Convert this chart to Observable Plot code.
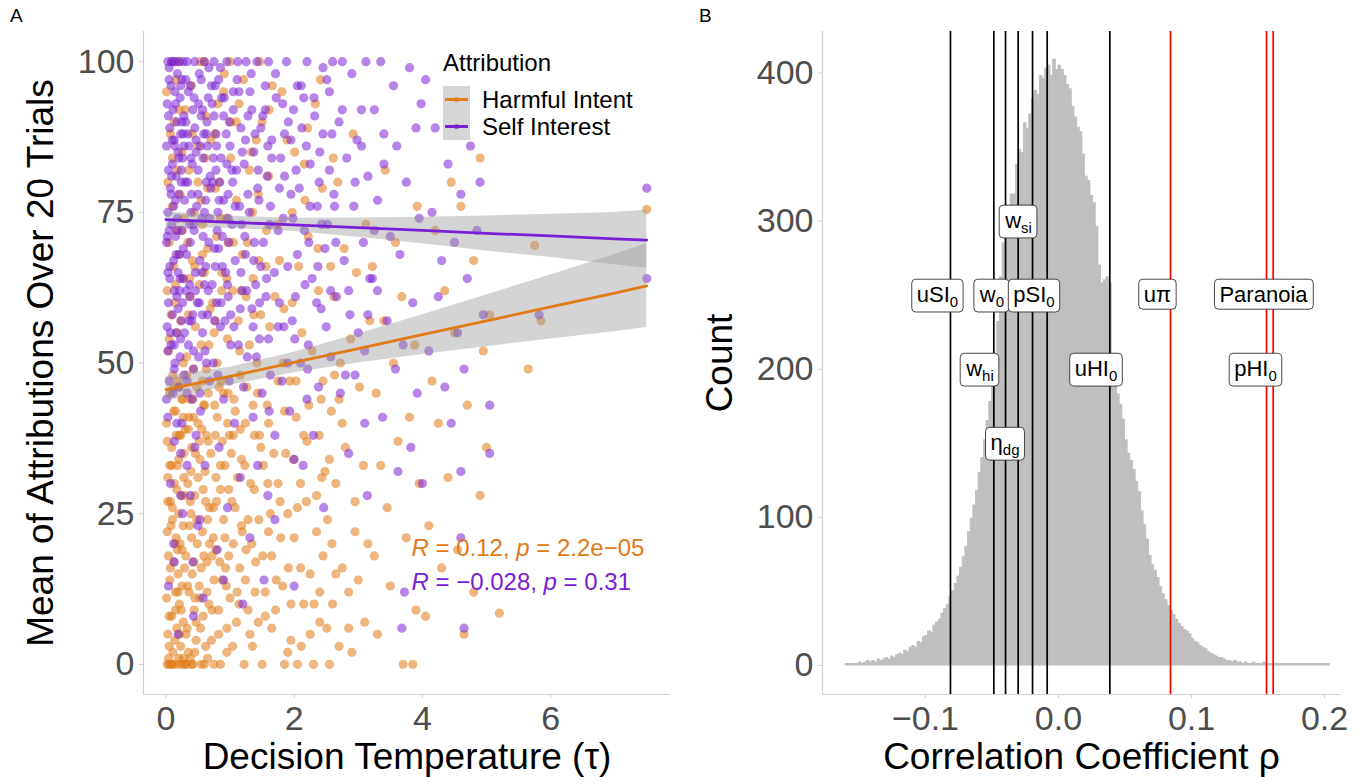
<!DOCTYPE html>
<html><head><meta charset="utf-8">
<script src="https://cdn.jsdelivr.net/npm/d3@7"></script>
<script src="https://cdn.jsdelivr.net/npm/@observablehq/plot@0.6"></script>
<style>
body{margin:0;background:#fff;font-family:"Liberation Sans",Arial,sans-serif;}
#wrap{display:flex;width:1362px;height:784px;overflow:hidden;}
.panel{position:relative;width:681px;height:784px;}
.tag{position:absolute;top:5px;font-size:19px;color:#000;}
svg.ov{position:absolute;left:0;top:0;pointer-events:none;}
</style></head><body>
<div id="wrap">
  <div class="panel" id="pa"><div class="tag" style="left:10px">A</div></div>
  <div class="panel" id="pb"><div class="tag" style="left:18px">B</div></div>
</div>
<script>
// ---------------- Panel A data ----------------
const seriesNames = ["Harmful Intent", "Self Interest"];
const ORANGE = "#E07A14", PURPLE = "#7A20D4";
const hiPoints = [
[0.02,0],[0.08,0],[0.14,0],[0.2,0],[0.26,0],[0.05,0],[0.11,2],[0.23,3],[0.03,5],[0.17,6],[0.27,7],[0.09,8],[0.21,10],[0.01,11],[0.15,12],[0.25,13],[0.06,14],[0.19,15],[0.29,16],[0.12,17],[0.04,18],[0.22,20],[0.16,21],[0.02,22],[0.27,23],[0.1,24],[0.2,25],[0.07,27],[0.24,28],[0.13,30],[0.03,31],[0.18,33],[0.28,35],[0.09,36],[0.21,38],[0.01,40],[0.15,42],[0.25,44],[0.06,45],[0.19,47],[0.11,48],[0.27,50],[0.04,52],[0.17,55],[0.23,57],[0.08,58],[0.14,60],[0.02,62],[0.26,64],[0.12,66],[0.2,68],[0.05,70],[0.16,72],[0.28,74],[0.1,76],[0.22,78],[0.03,80],[0.18,82],[0.25,85],[0.07,88],[0.13,90],[0.21,92],[0.01,95],[0.16,97],[0.09,100],
[0.32,0],[0.42,0],[0.55,0],[0.38,1],[0.62,3],[0.47,4],[0.33,6],[0.58,8],[0.44,9],[0.67,10],[0.36,12],[0.52,13],[0.41,15],[0.64,17],[0.31,18],[0.49,20],[0.57,22],[0.39,25],[0.68,26],[0.45,28],[0.34,30],[0.61,32],[0.53,34],[0.4,36],[0.66,37],[0.35,39],[0.5,40],[0.43,41],[0.59,43],[0.37,44],[0.48,46],[0.63,49],[0.32,51],[0.55,53],[0.46,56],[0.69,59],[0.38,61],[0.52,63],[0.6,65],[0.41,67],[0.34,70],[0.57,73],[0.44,75],[0.65,79],[0.36,82],[0.5,86],[0.62,91],[0.4,96],[0.54,100],
[0.75,0],[0.95,2],[0.82,5],[1.1,7],[0.72,9],[1.0,11],[0.88,14],[1.15,16],[0.78,19],[1.05,20],[0.92,21],[1.18,23],[0.74,26],[0.98,29],[1.12,31],[0.85,33],[1.02,35],[0.77,38],[1.08,42],[0.9,45],[1.16,48],[0.8,50],[0.96,54],[1.13,57],[0.73,60],[1.04,62],[0.87,65],[1.19,68],[0.79,71],[0.94,74],[1.1,77],[0.83,80],[1.01,84],[0.76,88],[1.14,93],[0.91,98],
[1.22,0],[1.5,0],[1.35,3],[1.65,6],[1.28,9],[1.55,12],[1.72,14],[1.4,17],[1.25,19],[1.6,22],[1.45,24],[1.78,27],[1.32,30],[1.52,33],[1.68,35],[1.38,38],[1.24,40],[1.58,43],[1.75,47],[1.42,50],[1.3,53],[1.62,56],[1.48,58],[1.7,61],[1.36,64],[1.56,66],[1.27,70],[1.74,73],[1.44,78],[1.6,81],[1.33,85],[1.5,90],[1.66,96],[1.46,100],
[1.85,0],[2.05,0],[2.3,0],[1.95,4],[2.4,7],[2.15,10],[1.82,13],[2.25,15],[2.45,18],[2.0,21],[1.9,25],[2.35,28],[2.1,30],[2.48,32],[1.87,35],[2.2,37],[2.03,41],[2.42,44],[1.93,47],[2.28,52],[2.12,55],[1.84,59],[2.38,62],[2.07,66],[2.22,71],[1.97,75],[2.44,79],[2.16,83],[1.89,87],[2.33,93],
[2.55,0],[2.9,2],[2.7,3],[3.1,7],[2.6,10],[2.85,12],[3.0,14],[2.75,16],[3.15,20],[2.52,24],[2.95,27],[2.65,30],[3.08,33],[2.8,36],[2.58,42],[3.02,46],[2.72,50],[2.88,54],[3.18,57],[2.62,61],[2.97,65],[2.78,69],[3.12,73],[2.68,80],[2.92,88],
[3.7,0],[3.85,0],[3.3,5],[3.9,9],[3.5,13],[3.25,18],[3.75,21],[3.45,26],[3.95,30],[3.35,33],[3.62,37],[3.8,41],[3.28,45],[3.55,50],[3.88,53],[3.4,57],[3.68,61],[3.22,66],[3.58,70],[3.92,76],[3.42,82],
[4.65,5],[4.05,8],[5.2,8.5],[4.8,12],[4.3,16],[4.55,19],[4.1,23],[4.9,28],[4.4,31],[5.0,36],[4.25,40],[4.7,43],[4.15,47],[4.95,52],[4.5,55],[5.05,58],[4.35,62],[4.8,67],[4.2,72],[4.6,76],[4.45,80],[4.9,84],
[5.65,49],[5.85,57],[5.75,69.5],[7.5,75.5],
[0.05,3],[0.15,9],[0.25,19],[0.35,2],[0.45,11],[0.55,16],[0.65,24],[0.75,14],[0.85,29],[0.95,6],[0.1,26],[0.2,34],[0.3,39],[0.4,21],[0.5,31],[0.6,43],[0.7,35],[0.8,41],[0.9,24],[0.02,37],[0.12,42],[0.22,46],[0.32,48],[0.42,44],[0.52,37],[0.62,27],[0.72,18],[0.82,9],[0.92,33],[0.07,16],[0.17,29],[0.27,41],[0.37,23],[0.47,7],[0.57,47],[0.67,53],[0.77,57],[0.87,62],[0.97,45],[1.05,38],
[0.04,1],[0.14,4],[0.24,9],[0.34,13],[0.44,17],[0.54,6],[0.64,12],[0.74,21],[0.84,17],[0.94,13],[1.04,3],[1.14,10],[1.24,14],[1.34,20],[1.44,7],
[0.08,23],[0.18,19],[0.28,31],[0.38,27],[0.48,24],[0.58,29],[0.68,20],[0.78,31],[0.88,37],[0.98,18],[1.08,26],[1.18,34],[1.28,24],[1.38,29],[1.48,36],
[0.06,33],[0.16,38],[0.26,44],[0.36,41],[0.46,35],[0.56,39],[0.66,45],[0.76,43],[0.86,47],[0.96,40],[1.06,44],[1.16,39],[1.26,46],[1.36,43],[1.46,38],
[0.1,0],[0.3,0],[0.4,0],[0.6,0],[0.2,1],[0.45,2],[0.65,1],[0.85,0],
[0.05,54],[0.15,63],[0.25,72],[0.35,58],[0.45,66],[0.55,77],[0.65,69],[0.75,55],[0.85,74],[0.95,64],[1.05,70],[1.15,52],[1.25,61],[1.35,75],[1.45,67],[0.1,84],[0.3,92],[0.5,80],[0.7,87],[0.9,95],[1.1,90],[1.3,82],[0.2,100],[0.6,100],[1.0,100],
[1.55,8],[1.65,18],[1.75,30],[1.85,42],[1.95,10],[2.05,26],[2.15,38],[2.25,5],[2.35,22],[2.45,47],[2.55,34],[2.65,15],[2.75,40],[2.85,6],[2.95,22],[1.6,40],[1.9,2],[2.1,16],[2.4,12],[2.7,44],
[0.31,5],[0.53,11],[0.71,4],[0.93,16],[1.11,12],[1.31,5],[1.51,18],[1.71,9],[1.91,16],[2.11,3],[2.31,10],[2.51,6],
[0.39,32],[0.59,18],[0.79,27],[0.99,38],[1.19,22],[1.39,12],[1.59,30],[1.79,21],[1.99,34],[2.19,27],[2.39,38],[2.59,20],
[0.43,49],[0.63,38],[0.83,46],[1.03,27],[1.23,33],[1.43,45],[1.63,25],[1.83,50],[2.03,47],[2.23,43],[2.43,31],[2.63,48],
[0.37,64],[0.57,68],[0.77,79],[0.97,70],[1.17,62],[1.37,58],[1.57,72],[1.77,67],[1.97,60],[2.17,77],[2.37,69],[2.57,66],
[0.41,88],[0.61,84],[0.81,93],[1.01,90],[1.21,97],[1.41,87],[1.61,92],[1.81,95],[2.01,85],[2.21,89],[2.41,97],[2.61,84],
[0.03,27],[0.09,33],[0.15,20],[0.21,5],[0.27,1],[0.13,46],[0.23,38],[0.05,8],[0.19,12],[0.29,28]
];
const siPoints = [
[0.03,100],[0.09,100],[0.15,100],[0.21,100],[0.27,100],[0.12,100],[0.05,99],[0.18,98],[0.25,97],[0.08,96],[0.14,95],[0.22,94],[0.02,93],[0.11,92],[0.28,91],[0.17,90],[0.06,89],[0.23,88],[0.13,87],[0.01,86],[0.19,85],[0.26,84],[0.1,83],[0.04,82],[0.16,81],[0.24,80],[0.07,79],[0.2,78],[0.29,77],[0.12,76],[0.03,75],[0.18,74],[0.09,73],[0.25,72],[0.15,71],[0.01,70],[0.21,68],[0.06,66],[0.27,64],[0.13,62],[0.04,60],[0.19,59],[0.1,58],[0.24,57],[0.02,56],[0.16,55],[0.08,53],[0.22,51],[0.14,50],[0.28,48],[0.05,47],[0.2,46],[0.11,45],[0.01,44],[0.17,40],[0.23,35],[0.07,30],[0.26,25],[0.12,20],[0.04,13],[0.19,5],
[0.33,100],[0.45,100],[0.6,100],[0.52,98],[0.38,96],[0.66,94],[0.42,92],[0.55,91],[0.31,90],[0.63,88],[0.47,87],[0.36,86],[0.58,84],[0.41,83],[0.69,81],[0.34,80],[0.5,78],[0.62,77],[0.39,75],[0.56,74],[0.44,72],[0.67,70],[0.32,68],[0.53,67],[0.46,65],[0.6,63],[0.37,61],[0.49,60],[0.65,58],[0.4,57],[0.57,55],[0.35,53],[0.51,51],[0.43,49],[0.68,47],[0.33,45],[0.54,42],[0.47,38],[0.61,33],[0.38,28],[0.5,23],[0.42,17],[0.58,11],
[0.75,100],[0.95,100],[1.12,100],[0.82,97],[1.05,95],[0.72,93],[0.9,91],[1.17,89],[0.78,88],[1.0,86],[0.86,84],[1.1,82],[0.73,80],[0.97,78],[1.15,76],[0.81,75],[1.03,73],[0.88,71],[0.76,69],[1.08,67],[0.93,65],[1.19,62],[0.79,60],[1.01,58],[0.85,56],[1.13,53],[0.74,50],[0.99,47],[0.9,44],[1.07,40],[0.83,36],[1.16,31],[0.96,26],[0.8,19],
[1.25,100],[1.42,100],[1.6,100],[1.33,98],[1.55,96],[1.72,94],[1.28,91],[1.48,89],[1.65,87],[1.37,85],[1.22,83],[1.58,81],[1.77,79],[1.45,77],[1.3,75],[1.62,73],[1.52,70],[1.24,68],[1.69,65],[1.4,63],[1.56,61],[1.34,59],[1.75,56],[1.46,54],[1.27,51],[1.63,48],[1.5,45],[1.36,41],[1.7,38],[1.43,33],[1.59,28],[1.31,21],[1.53,14],
[1.88,100],[2.2,100],[2.45,99],[2.05,96],[1.82,93],[2.32,91],[2.12,89],[1.95,87],[2.4,85],[2.25,83],[1.85,81],[2.08,79],[2.36,76],[1.98,74],[2.16,72],[2.48,69],[1.9,66],[2.28,64],[2.02,61],[2.42,59],[1.84,56],[2.22,53],[2.1,50],[2.38,46],[1.93,42],[2.3,38],[2.14,33],[2.46,26],[2.0,13],
[2.6,100],[2.75,100],[3.12,100],[2.9,98],[2.55,95],[3.05,92],[2.7,90],[2.98,87],[2.82,84],[3.15,81],[2.62,78],[2.93,76],[2.52,73],[3.08,70],[2.78,67],[3.18,64],[2.66,61],[2.87,58],[3.0,55],[2.57,51],[2.95,48],[2.72,45],[3.1,40],[2.85,35],[3.14,28],
[3.35,100],[3.8,99],[3.55,96],[3.25,92],[3.9,89],[3.6,86],[3.4,83],[3.75,80],[3.3,77],[3.95,74],[3.5,71],[3.65,68],[3.22,64],[3.85,60],[3.45,57],[3.7,53],[3.58,49],[3.92,45],[3.38,41],[3.82,36],[3.62,32],[3.72,12],[3.68,6],
[4.05,97],[3.98,93],[4.2,89],[4.75,86],[4.4,83],[4.9,80],[4.6,78],[4.15,75],[4.85,72],[4.5,70],[4.3,67],[4.7,64],[4.25,61],[4.95,58],[4.55,55],[4.1,52],[4.65,49],[4.35,46],[5.05,43],[4.45,40],[5.05,35],[4.6,32],[4.0,30],[4.6,21],[4.65,6],
[5.82,58],[7.5,79],[7.5,64],
[0.05,97],[0.15,93],[0.25,90],[0.35,95],[0.45,89],[0.55,97],[0.65,86],[0.75,91],[0.85,99],[0.95,83],[0.1,87],[0.2,84],[0.3,80],[0.4,78],[0.5,82],[0.6,75],[0.7,79],[0.8,72],[0.9,77],[0.02,71],[0.12,67],[0.22,64],[0.32,62],[0.42,58],[0.52,60],[0.62,66],[0.72,63],[0.82,69],[0.92,57],[0.07,55],[0.17,61],[0.27,69],[0.37,73],[0.47,85],[0.57,92],[0.67,99],[0.77,96],[0.87,94],[0.97,74],[1.05,92],
[0.04,91],[0.14,86],[0.24,82],[0.34,88],[0.44,94],[0.54,86],[0.64,90],[0.74,84],[0.84,80],[0.94,88],[1.04,80],[1.14,95],[1.24,87],[1.34,92],[1.44,82],
[0.08,78],[0.18,72],[0.28,86],[0.38,70],[0.48,76],[0.58,71],[0.68,74],[0.78,82],[0.88,66],[0.98,70],[1.08,76],[1.18,73],[1.28,78],[1.38,70],[1.48,66],
[0.06,64],[0.16,68],[0.26,60],[0.36,57],[0.46,62],[0.56,65],[0.66,62],[0.76,57],[0.86,60],[0.96,63],[1.06,56],[1.16,59],[1.26,62],[1.36,56],[1.46,60],
[0.03,52],[0.13,49],[0.23,54],[0.33,47],[0.43,52],[0.53,45],[0.63,50],[0.03,41],[0.13,37],[0.33,33],[0.23,28],[0.53,24],[0.13,17],[0.43,8],
[1.55,92],[1.65,84],[1.75,72],[1.85,88],[1.95,78],[2.05,68],[2.15,94],[2.25,76],[2.35,60],[2.45,88],[2.55,82],[2.65,70],[2.75,92],[2.85,62],[2.95,80],[3.05,86],[3.15,58],[3.25,72],[1.6,54],[1.9,50],[2.2,44],[2.5,56],[2.8,48],[3.1,52],[3.4,88],[3.3,62],[2.0,34],[1.7,24],[1.2,10],[0.9,14],
[0.31,97],[0.51,93],[0.71,96],[0.91,94],[1.11,97],[1.31,95],[1.51,91],[1.71,98],[1.91,90],[2.11,96],[2.31,94],[2.51,97],
[0.39,84],[0.59,88],[0.79,86],[0.99,90],[1.19,85],[1.39,88],[1.59,86],[1.79,84],[1.99,92],[2.19,86],[2.39,80],[2.59,88],
[0.43,73],[0.63,80],[0.83,77],[1.03,82],[1.23,71],[1.43,79],[1.63,76],[1.83,74],[2.03,82],[2.23,70],[2.43,73],[2.63,76],
[0.37,63],[0.57,58],[0.77,66],[0.97,61],[1.17,65],[1.37,67],[1.57,64],[1.77,60],[1.97,57],[2.17,63],[2.37,66],[2.57,62],
[0.41,44],[0.61,52],[0.81,48],[1.01,53],[1.21,46],[1.41,51],[1.61,42],[1.81,47],[2.01,54],[2.21,49],[0.25,40],[0.45,36],
[0.03,65],[0.09,81],[0.15,77],[0.21,62],[0.27,88],[0.13,53],[0.23,96],[0.05,72],[0.19,65],[0.29,55]
];
// linear fits with 95% bands
const fitTau = [0, 1, 2, 3, 4, 5, 6, 7, 7.5];
const hiFit  = [45.6, 47.8, 50.1, 52.4, 54.7, 57.0, 59.3, 61.6, 62.8];
const hiLo   = [43.6, 46.3, 48.4, 50.0, 51.4, 52.7, 54.0, 55.2, 55.9];
const hiHi   = [47.8, 49.3, 51.8, 54.8, 58.0, 61.3, 64.6, 68.0, 69.8];
const siFit  = [73.8, 73.35, 72.9, 72.45, 72.0, 71.5, 71.1, 70.6, 70.4];
const siLo   = [72.5, 72.35, 71.8, 70.85, 69.8, 68.6, 67.5, 66.3, 65.7];
const siHi   = [75.1, 74.35, 74.0, 74.05, 74.2, 74.4, 74.7, 74.95, 75.4];
const statR = ["0.12", "\u22120.028"];
const statP = ["2.2e\u221205", "0.31"];
const statTau = 3.83;
const statVal = [19.3, 13.6];
const tauTicks = [0, 2, 4, 6];
const valTicks = [0, 25, 50, 75, 100];
const tauDomain = [-0.35, 7.87];
const valDomain = [-5, 105];

// ---------------- Panel B data ----------------
const histStart = -0.160, histWidth = 0.002;
const histCounts = [
1,1,1,1,1,2,1,2,3,2, 3,2,4,3,4,5,4,6,5,7,
8,7,10,9,12,13,12,16,15,19, 20,23,22,27,29,31,35,38,41,46,
50,55,60,66,73,80,90,99,108,118, 130,140,152,165,178,192,205,232,262,285,
300,306,318,318,338,348,346,366,362,372, 382,388,385,398,396,403,405,398,409,402,
405,402,398,392,389,377,370,363,360,345, 330,327,317,312,296,270,258,260,262,258,
195,190,183,176,166,152,143,138,132,124, 117,104,95,85,74,68,64,59,53,48,
44,40,37,34,31,28,26,24,23,21, 18,16,15,13,12,11,9,8,7,6,
5,5,4,3,3,2,3,2,2,1, 2,1,1,2,1,1,1,2,1,1,
1,1,1,1,1,1,1,1,1,1, 1,1,1,1,1,1,1,1,1,1,
1,1
];
const vlineRho   = [-0.0812, -0.0486, -0.0398, -0.0303, -0.0195, -0.0085, 0.0386, 0.0842, 0.1564, 0.1614];
const vlineColor = ["black","black","black","black","black","black","black","red","red","red"];
const labMain  = ["uSI", "w", "pSI", "w", "w", "\u03B7", "uHI", "u\u03C0", "Paranoia", "pHI"];
const labSub   = ["0", "0", "0", "si", "hi", "dg", "0", "", "", "0"];
const labRho   = [-0.091, -0.050, -0.0184, -0.030, -0.059, -0.0402, 0.0282, 0.0744, 0.1541, 0.1481];
const labCount = [250, 250, 250, 300, 200, 150, 200, 250, 250, 200];
const rhoTicks = [-0.1, 0, 0.1, 0.2];
const countTicks = [0, 100, 200, 300, 400];
const rhoDomain = [-0.1774, 0.212];
const countDomain = [-19.6, 428];

// ---------------- build ----------------
const FONT = "Liberation Sans, Arial, Helvetica, sans-serif";
const AXIS = "#cfcfcf", TICKTXT = "#4d4d4d";
const NS = "http://www.w3.org/2000/svg";

const hiRows = hiPoints.map(([tau, val]) => ({tau, val, s: seriesNames[0]}));
const siRows = siPoints.map(([tau, val]) => ({tau, val, s: seriesNames[1]}));
const fitRows = fitTau.map((tau, i) => ({tau, hiFit: hiFit[i], hiLo: hiLo[i], hiHi: hiHi[i], siFit: siFit[i], siLo: siLo[i], siHi: siHi[i]}));
const statRows = statR.map((r, i) => ({r, p: statP[i], tau: statTau, val: statVal[i], color: i === 0 ? ORANGE : PURPLE}));

const plotA = Plot.plot({
  width: 681, height: 784,
  marginLeft: 143, marginRight: 11, marginTop: 31, marginBottom: 90,
  x: {domain: tauDomain}, y: {domain: valDomain},
  color: {type: "identity"},
  style: {fontFamily: FONT, background: "transparent", overflow: "visible"},
  marks: [
    Plot.ruleX([tauDomain[0]], {stroke: AXIS, strokeWidth: 1.2}),
    Plot.ruleY([valDomain[0]], {stroke: AXIS, strokeWidth: 1.2}),
    Plot.axisX({ticks: tauTicks, tickSize: 4, tickPadding: 7, fontSize: 34, stroke: AXIS, fill: TICKTXT, label: null}),
    Plot.axisY({ticks: valTicks, tickSize: 4, tickPadding: 5, fontSize: 34, stroke: AXIS, fill: TICKTXT, label: null}),
    Plot.dot(hiRows, {x: "tau", y: "val", r: 4.6, fill: ORANGE, fillOpacity: 0.55, stroke: null}),
    Plot.dot(siRows, {x: "tau", y: "val", r: 4.6, fill: PURPLE, fillOpacity: 0.55, stroke: null}),
    Plot.areaY(fitRows, {x: "tau", y1: "siLo", y2: "siHi", fill: "#999999", fillOpacity: 0.42}),
    Plot.areaY(fitRows, {x: "tau", y1: "hiLo", y2: "hiHi", fill: "#999999", fillOpacity: 0.42}),
    Plot.line(fitRows, {x: "tau", y: "siFit", stroke: PURPLE, strokeWidth: 2.8}),
    Plot.line(fitRows, {x: "tau", y: "hiFit", stroke: ORANGE, strokeWidth: 2.8}),
    Plot.text(statRows, {x: "tau", y: "val", text: d => `R = ${d.r}, p = ${d.p}`, fill: "color", textAnchor: "start", fontSize: 24}),
    Plot.text(["Decision Temperature (\u03C4)"], {frameAnchor: "bottom", textAnchor: "middle", dy: 74, fontSize: 37, fill: "black"}),
    Plot.text(["Mean of Attributions Over 20 Trials"], {frameAnchor: "left", textAnchor: "middle", rotate: -90, dx: -102, fontSize: 37, fill: "black"})
  ]
});
document.getElementById("pa").appendChild(plotA);

const histRows = histCounts.map((c, i) => ({x1: histStart + i * histWidth, x2: histStart + (i + 1) * histWidth, count: c}));
const vRows = vlineRho.map((rho, i) => ({rho, color: vlineColor[i]}));
const labRows = labMain.map((m, i) => ({main: m, sub: labSub[i], rho: labRho[i], count: labCount[i]}));

const plotB = Plot.plot({
  width: 681, height: 784,
  marginLeft: 141, marginRight: 22, marginTop: 31, marginBottom: 90,
  x: {domain: rhoDomain}, y: {domain: countDomain},
  color: {type: "identity"},
  style: {fontFamily: FONT, background: "transparent", overflow: "visible"},
  marks: [
    Plot.rect(histRows, {x1: "x1", x2: "x2", y1: 0, y2: "count", fill: "#bfbfbf", stroke: "#bfbfbf", strokeWidth: 0.9}),
    Plot.ruleX([rhoDomain[0]], {stroke: AXIS, strokeWidth: 1.2}),
    Plot.ruleY([countDomain[0]], {stroke: AXIS, strokeWidth: 1.2}),
    Plot.axisX({ticks: rhoTicks, tickSize: 4, tickPadding: 7, fontSize: 34, stroke: AXIS, fill: TICKTXT, label: null,
      tickFormat: d => d.toFixed(1).replace("-", "\u2212")}),
    Plot.axisY({ticks: countTicks, tickSize: 4, tickPadding: 5, fontSize: 34, stroke: AXIS, fill: TICKTXT, label: null}),
    Plot.ruleX(vRows, {x: "rho", stroke: "color", strokeWidth: 1.7}),
    Plot.text(labRows, {x: "rho", y: "count", text: d => d.main + d.sub, fontSize: 22, fill: "black"}),
    Plot.text(["Correlation Coefficient \u03C1"], {frameAnchor: "bottom", textAnchor: "middle", dy: 74, fontSize: 37, fill: "black"}),
    Plot.text(["Count"], {frameAnchor: "left", textAnchor: "middle", rotate: -90, dx: -102, fontSize: 37, fill: "black"})
  ]
});
document.getElementById("pb").appendChild(plotB);

// subscripts and label boxes
function tspan(parent, txt, attrs) {
  const t = document.createElementNS(NS, "tspan");
  t.textContent = txt;
  for (const k in attrs) t.setAttribute(k, attrs[k]);
  parent.appendChild(t);
  return t;
}
const labGroup = plotB.querySelectorAll('g[aria-label="text"]')[0];
labGroup.querySelectorAll("text").forEach((t, i) => {
  const d = labRows[i];
  t.textContent = "";
  tspan(t, d.main, {});
  if (d.sub) tspan(t, d.sub, {"font-size": "15", "dy": "0.32em"});
  const bb = t.getBBox();
  const r = document.createElementNS(NS, "rect");
  r.setAttribute("x", bb.x - 5);
  r.setAttribute("y", bb.y - 3);
  r.setAttribute("width", bb.width + 10);
  r.setAttribute("height", bb.height + 5);
  r.setAttribute("rx", 4);
  r.setAttribute("fill", "white");
  r.setAttribute("stroke", "#333");
  r.setAttribute("stroke-width", 0.9);
  if (t.getAttribute("transform")) r.setAttribute("transform", t.getAttribute("transform"));
  t.parentNode.insertBefore(r, t);
});
const statGroup = plotA.querySelectorAll('g[aria-label="text"]')[0];
statGroup.querySelectorAll("text").forEach((t, i) => {
  const d = statRows[i];
  t.textContent = "";
  tspan(t, "R", {"font-style": "italic"});
  tspan(t, ` = ${d.r}, `, {});
  tspan(t, "p", {"font-style": "italic"});
  tspan(t, ` = ${d.p}`, {});
});

// legend for panel A
const lg = document.createElementNS(NS, "svg");
lg.setAttribute("class", "ov");
lg.setAttribute("width", 681); lg.setAttribute("height", 784);
lg.style.fontFamily = FONT;
const legendColors = [ORANGE, PURPLE];
function el(name, attrs, txt) {
  const e = document.createElementNS(NS, name);
  for (const k in attrs) e.setAttribute(k, attrs[k]);
  if (txt != null) e.textContent = txt;
  lg.appendChild(e);
  return e;
}
el("text", {x: 443, y: 71, "font-size": 24, fill: "black"}, "Attribution");
seriesNames.forEach((name, i) => {
  const y0 = 86 + i * 27;
  el("rect", {x: 443, y: y0, width: 27, height: 27, fill: "#d6d6d6"});
  el("circle", {cx: 456.5, cy: y0 + 13.5, r: 2.6, fill: legendColors[i], "fill-opacity": 0.7});
  el("line", {x1: 445, x2: 468, y1: y0 + 13.5, y2: y0 + 13.5, stroke: legendColors[i], "stroke-width": 3});
  el("text", {x: 482, y: y0 + 13.5, dy: "0.35em", "font-size": 24, fill: "black"}, name);
});
document.getElementById("pa").appendChild(lg);
</script>
</body></html>
